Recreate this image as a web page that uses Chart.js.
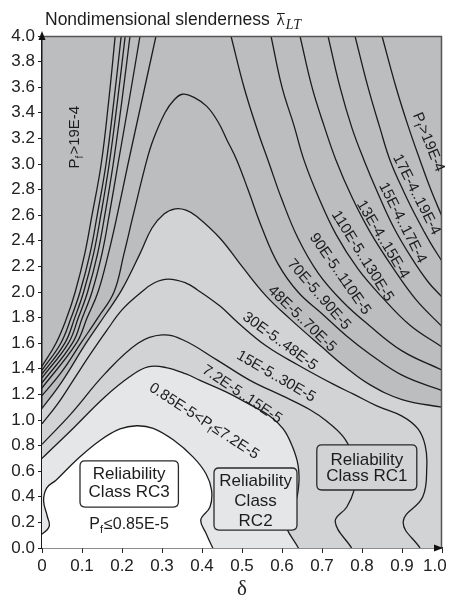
<!DOCTYPE html>
<html>
<head>
<meta charset="utf-8">
<script src="https://cdn.jsdelivr.net/npm/chart.js@4.4.1/dist/chart.umd.min.js"></script>
<style>
  html, body { margin: 0; padding: 0; background: #fff; }
  canvas { display: block; }
</style>
</head>
<body>
<canvas id="myChart" width="449" height="602"></canvas>
<script>
// contour lines of the failure probability, [delta, slenderness]
var c085 = [[0,0.11],[0.018,0.17],[0.013,0.25],[0.004,0.37],[0.012,0.47],[0.035,0.53],[0.087,0.69],[0.145,0.84],[0.195,0.93],[0.237,0.955],[0.278,0.935],[0.328,0.845],[0.378,0.71],[0.41,0.58],[0.424,0.45],[0.42,0.32],[0.397,0.22],[0.41,0.115],[0.427,0]];
var c72 = [[0,0.70],[0.073,0.92],[0.157,1.18],[0.22,1.34],[0.265,1.415],[0.31,1.41],[0.36,1.36],[0.395,1.31],[0.46,1.22],[0.52,1.12],[0.57,1.03],[0.603,0.93],[0.625,0.8],[0.64,0.65],[0.642,0.5],[0.633,0.35],[0.607,0.21],[0.641,0]];
var c15 = [[0,0.81],[0.073,1.05],[0.157,1.36],[0.24,1.60],[0.3,1.665],[0.353,1.625],[0.437,1.47],[0.52,1.31],[0.6,1.19],[0.67,1.08],[0.712,0.99],[0.753,0.87],[0.775,0.74],[0.785,0.6],[0.78,0.45],[0.762,0.32],[0.733,0.205],[0.774,0]];
var c30 = [[0,0.97],[0.04,1.13],[0.08,1.32],[0.12,1.51],[0.162,1.70],[0.2,1.86],[0.245,1.99],[0.28,2.07],[0.316,2.1],[0.36,2.07],[0.387,2.02],[0.445,1.89],[0.49,1.76],[0.56,1.58],[0.64,1.43],[0.728,1.28],[0.78,1.2],[0.837,1.11],[0.9,1.03],[0.94,0.93],[0.958,0.8],[0.962,0.64],[0.952,0.4],[0.903,0.205],[0.945,0]];
var c48 = [[0,1.09],[0.05,1.3],[0.11,1.6],[0.16,1.83],[0.2,2.02],[0.245,2.3],[0.275,2.5],[0.305,2.61],[0.333,2.65],[0.36,2.64],[0.387,2.59],[0.445,2.42],[0.5,2.2],[0.56,1.97],[0.62,1.79],[0.7,1.57],[0.76,1.41],[0.8175,1.28],[0.9,1.16],[1.0,1.10]];
var c70 = [[0,1.19],[0.05,1.38],[0.097,1.6],[0.14,1.8],[0.18,2.0],[0.205,2.3],[0.228,2.6],[0.262,3.03],[0.278,3.19],[0.3075,3.40],[0.33,3.5],[0.351,3.545],[0.38,3.52],[0.412,3.45],[0.44,3.33],[0.462,3.19],[0.487,3.03],[0.515,2.8],[0.55,2.5],[0.59,2.22],[0.64,2.0],[0.7,1.83],[0.76,1.66],[0.8175,1.52],[0.9,1.35],[1.0,1.23]];
// higher levels leave through the top edge and come back in on the right
var c90L = [[0,1.25],[0.086,1.6],[0.113,1.8],[0.14,2.0],[0.166,2.3],[0.188,2.6],[0.215,3.0],[0.25,3.5],[0.285,4.0]];
var c90R = [[0.4725,4.0],[0.505,3.6],[0.54,3.25],[0.565,3.03],[0.6,2.72],[0.64,2.42],[0.69,2.15],[0.75,1.93],[0.8175,1.74],[0.9,1.54],[1.0,1.39]];
var c110L = [[0,1.29],[0.076,1.6],[0.101,1.8],[0.125,2.0],[0.15,2.3],[0.168,2.6],[0.19,3.0],[0.218,3.5],[0.245,4.0]];
var c110R = [[0.5725,4.0],[0.6,3.6],[0.63,3.3],[0.655,3.03],[0.69,2.75],[0.735,2.45],[0.79,2.18],[0.85,1.96],[0.92,1.74],[1.0,1.57]];
var c130L = [[0,1.33],[0.066,1.6],[0.091,1.8],[0.114,2.0],[0.139,2.3],[0.157,2.6],[0.178,3.0],[0.2,3.5],[0.22,4.0]];
var c130R = [[0.645,4.0],[0.675,3.6],[0.705,3.3],[0.735,3.03],[0.775,2.74],[0.82,2.47],[0.875,2.2],[0.935,1.94],[1.0,1.73]];
var c150L = [[0,1.36],[0.057,1.6],[0.082,1.8],[0.104,2.0],[0.129,2.3],[0.147,2.6],[0.168,3.0],[0.189,3.5],[0.208,4.0]];
var c150R = [[0.715,4.0],[0.745,3.6],[0.775,3.28],[0.805,3.03],[0.84,2.77],[0.88,2.5],[0.925,2.26],[0.965,2.08],[1.0,1.96]];
var c170L = [[0,1.39],[0.047,1.6],[0.073,1.8],[0.095,2.0],[0.12,2.3],[0.138,2.6],[0.16,3.0],[0.18,3.5],[0.198,4.0]];
var c170R = [[0.7825,4.0],[0.815,3.6],[0.845,3.28],[0.87,3.03],[0.905,2.78],[0.94,2.56],[0.97,2.39],[1.0,2.24]];
var c190L = [[0,1.42],[0.035,1.6],[0.062,1.8],[0.083,2.0],[0.107,2.3],[0.125,2.6],[0.148,3.0],[0.167,3.5],[0.183,4.0]];
var c190R = [[0.85,4.0],[0.885,3.6],[0.915,3.3],[0.945,3.03],[0.972,2.8],[1.0,2.59]];

var bandLabels = ['P_f>19E-4', 'P_f>19E-4', '17E-4..19E-4', '15E-4..17E-4', '13E-4..15E-4', '110E-5..130E-5',
  '90E-5..110E-5', '70E-5..90E-5', '48E-5..70E-5', '30E-5..48E-5', '15E-5..30E-5', '7.2E-5..15E-5',
  '0.85E-5<P_f\u22647.2E-5', 'P_f\u22640.85E-5'];
var classLabels = [['Reliability', 'Class RC3'], ['Reliability', 'Class', 'RC2'], ['Reliability', 'Class RC1']];

var FONT = "'Liberation Sans', Arial, Helvetica, sans-serif";
var SERIF = "'Liberation Serif', 'DejaVu Serif', serif";
var INK = '#1c1c1c';
var DARK = '#bcbdbf', LIGHT = '#d2d3d5', LIGHTEST = '#e5e6e7';

// where the band labels sit: [x, y, rotation in degrees]
var labelSpots = [[0.083,3.21,-90],[0.966,3.17,68],[0.936,2.76,63],[0.901,2.54,63],[0.852,2.41,59],[0.801,2.28,58],
  [0.745,2.14,55],[0.692,1.98,49],[0.65,1.79,44],[0.595,1.615,36],[0.585,1.34,30],[0.50,1.2,34],[0.405,0.99,33],[0.2175,0.18,0]];
// class boxes: [x0, x1, y0, y1], fill, line centres
var boxSpots = [
  {r: [0.095,0.341,0.32,0.68], fill: '#ffffff', cx: 0.218, ys: [0.578,0.434]},
  {r: [0.43,0.6375,0.14,0.625], fill: LIGHTEST, cx: 0.534, ys: [0.52,0.363,0.211]},
  {r: [0.687,0.937,0.453,0.805], fill: LIGHT, cx: 0.812, ys: [0.6875,0.557]}
];

function pts(a) { return a.map(function(p) { return {x: p[0], y: p[1]}; }); }

function lineSet(a) {
  return {data: pts(a), showLine: true, borderColor: INK, borderWidth: 1.3,
    pointRadius: 0, fill: false, tension: 0.4, clip: 0};
}
function shadeSet(a, color) {
  var s = lineSet(a);
  s.fill = 'shape';
  s.backgroundColor = color;
  return s;
}

// filled regions are closed below the plot, outside the visible area
var regionWhite = [[-0.03,0.07]].concat(c085, [[0.435,-0.04],[0.435,-0.2],[-0.03,-0.2]]);
var regionLightest = [[-0.03,0.6]].concat(c72, [[0.65,-0.05],[0.65,-0.2],[-0.03,-0.2]]);
var regionLight = [[-0.03,0.97]].concat(c48, [[1.04,1.08],[1.04,-0.2],[-0.03,-0.2]]);

function drawRich(ctx, text, cx, cy, rot, size) {
  var parts = text.split('_f');
  var big = size + 'px ' + FONT, small = Math.round(size * 0.66) + 'px ' + FONT;
  ctx.save();
  ctx.translate(cx, cy);
  ctx.rotate(rot * Math.PI / 180);
  ctx.fillStyle = INK;
  ctx.textBaseline = 'middle';
  ctx.textAlign = 'left';
  var w = 0;
  ctx.font = big;
  w += ctx.measureText(parts[0]).width;
  if (parts.length > 1) {
    ctx.font = small; w += ctx.measureText('f').width + 1;
    ctx.font = big; w += ctx.measureText(parts[1]).width;
  }
  var x = -w / 2;
  ctx.font = big;
  ctx.fillText(parts[0], x, 0);
  x += ctx.measureText(parts[0]).width;
  if (parts.length > 1) {
    ctx.font = small;
    ctx.fillText('f', x, size * 0.32);
    x += ctx.measureText('f').width + 1;
    ctx.font = big;
    ctx.fillText(parts[1], x, 0);
  }
  ctx.restore();
}

function roundRect(ctx, x, y, w, h, r) {
  ctx.beginPath();
  ctx.moveTo(x + r, y);
  ctx.lineTo(x + w - r, y); ctx.quadraticCurveTo(x + w, y, x + w, y + r);
  ctx.lineTo(x + w, y + h - r); ctx.quadraticCurveTo(x + w, y + h, x + w - r, y + h);
  ctx.lineTo(x + r, y + h); ctx.quadraticCurveTo(x, y + h, x, y + h - r);
  ctx.lineTo(x, y + r); ctx.quadraticCurveTo(x, y, x + r, y);
  ctx.closePath();
}

var overlay = {
  id: 'overlay',
  beforeDraw: function(chart) {
    var ctx = chart.ctx, a = chart.chartArea;
    ctx.save();
    ctx.fillStyle = '#fff';
    ctx.fillRect(0, 0, chart.width, chart.height);
    ctx.fillStyle = DARK;
    ctx.fillRect(a.left, a.top, a.right - a.left, a.bottom - a.top);
    ctx.restore();
  },
  afterDatasetsDraw: function(chart) {
    var ctx = chart.ctx, a = chart.chartArea, xs = chart.scales.x, ys = chart.scales.y;
    ctx.save();
    // top and right frame
    ctx.strokeStyle = '#555';
    ctx.lineWidth = 1.5;
    ctx.beginPath();
    ctx.moveTo(a.left, a.top + 0.5);
    ctx.lineTo(a.right - 0.5, a.top + 0.5);
    ctx.lineTo(a.right - 0.5, a.bottom);
    ctx.stroke();

    // reliability class boxes
    boxSpots.forEach(function(b, i) {
      var x0 = xs.getPixelForValue(b.r[0]), x1 = xs.getPixelForValue(b.r[1]);
      var y0 = ys.getPixelForValue(b.r[3]), y1 = ys.getPixelForValue(b.r[2]);
      roundRect(ctx, x0, y0, x1 - x0, y1 - y0, 5);
      ctx.fillStyle = b.fill;
      ctx.fill();
      ctx.strokeStyle = '#2a2a2a';
      ctx.lineWidth = 1.3;
      ctx.stroke();
      ctx.fillStyle = INK;
      ctx.font = '17px ' + FONT;
      ctx.textAlign = 'center';
      ctx.textBaseline = 'middle';
      classLabels[i].forEach(function(t, k) {
        ctx.fillText(t, xs.getPixelForValue(b.cx), ys.getPixelForValue(b.ys[k]));
      });
    });

    // band labels along the contours
    bandLabels.forEach(function(t, i) {
      var s = labelSpots[i];
      var size = (i === bandLabels.length - 1) ? 16 : 15;
      drawRich(ctx, t, xs.getPixelForValue(s[0]), ys.getPixelForValue(s[1]), s[2], size);
    });
    ctx.restore();
  },
  afterDraw: function(chart) {
    var ctx = chart.ctx, a = chart.chartArea;
    ctx.save();
    ctx.fillStyle = '#111';
    // arrow heads on the axes
    ctx.beginPath();
    ctx.moveTo(a.left, a.top - 5);
    ctx.lineTo(a.left - 3.5, a.top + 4);
    ctx.lineTo(a.left + 3.5, a.top + 4);
    ctx.closePath();
    ctx.fill();
    ctx.beginPath();
    ctx.moveTo(a.right + 1, a.bottom);
    ctx.lineTo(a.right - 8, a.bottom - 3.5);
    ctx.lineTo(a.right - 8, a.bottom + 3.5);
    ctx.closePath();
    ctx.fill();

    // title with lambda-bar LT
    ctx.fillStyle = INK;
    ctx.textBaseline = 'alphabetic';
    ctx.textAlign = 'left';
    ctx.font = '17.5px ' + FONT;
    var t = 'Nondimensional slenderness ';
    ctx.fillText(t, 45, 25);
    var lx = 45 + ctx.measureText(t).width + 2;
    ctx.font = '17px ' + SERIF;
    ctx.fillText('\u03bb', lx, 25);
    var lw = ctx.measureText('\u03bb').width;
    ctx.strokeStyle = INK;
    ctx.lineWidth = 1;
    ctx.beginPath();
    ctx.moveTo(lx + 0.5, 13.5);
    ctx.lineTo(lx + lw, 13.5);
    ctx.stroke();
    ctx.font = 'italic 14px ' + SERIF;
    ctx.fillText('LT', lx + lw + 1, 29);
    ctx.restore();
  }
};

var ctx = document.getElementById('myChart').getContext('2d');
var chart = new Chart(ctx, {
  type: 'scatter',
  data: {
    datasets: [
      lineSet(c15), lineSet(c30), lineSet(c70),
      lineSet(c90L), lineSet(c90R), lineSet(c110L), lineSet(c110R),
      lineSet(c130L), lineSet(c130R), lineSet(c150L), lineSet(c150R),
      lineSet(c170L), lineSet(c170R), lineSet(c190L), lineSet(c190R),
      // drawn first (highest index first): light, lightest, white
      shadeSet(regionWhite, '#ffffff'),
      shadeSet(regionLightest, LIGHTEST),
      shadeSet(regionLight, LIGHT)
    ]
  },
  options: {
    responsive: false,
    animation: false,
    devicePixelRatio: 1,
    events: [],
    layout: {padding: {top: 36, right: 7, bottom: 0, left: 0}, autoPadding: false},
    elements: {line: {capBezierPoints: false}},
    plugins: {
      legend: {display: false},
      tooltip: {enabled: false},
      title: {display: false},
      filler: {drawTime: 'beforeDatasetsDraw'}
    },
    scales: {
      x: {
        type: 'linear', min: 0, max: 1,
        afterFit: function(s) { s.height = 54; s.paddingLeft = 0; s.paddingRight = 0; },
        ticks: {
          stepSize: 0.1, autoSkip: false, maxRotation: 0, padding: 3, color: '#222',
          font: {family: FONT, size: 17},
          callback: function(v) {
            if (v === 0) return '0';
            // last label is nudged inward so it stays on the page
            return v === 1 ? '1.0\u00a0\u00a0\u00a0' : v.toFixed(1);
          }
        },
        grid: {drawOnChartArea: false, drawTicks: true, tickLength: 5, color: '#222'},
        border: {color: '#1a1a1a', width: 1.5},
        title: {display: true, text: '\u03b4', color: '#222', font: {family: SERIF, size: 21}, padding: {top: 0, bottom: 0}}
      },
      y: {
        type: 'linear', min: 0, max: 4,
        afterFit: function(s) { s.width = 42; s.paddingTop = 0; s.paddingBottom = 0; },
        ticks: {
          stepSize: 0.2, autoSkip: false, padding: 3, color: '#222',
          font: {family: FONT, size: 17},
          callback: function(v) { return v.toFixed(1); }
        },
        grid: {drawOnChartArea: false, drawTicks: true, tickLength: 4, color: '#222'},
        border: {color: '#1a1a1a', width: 1.5}
      }
    }
  },
  plugins: [overlay]
});
</script>
</body>
</html>
